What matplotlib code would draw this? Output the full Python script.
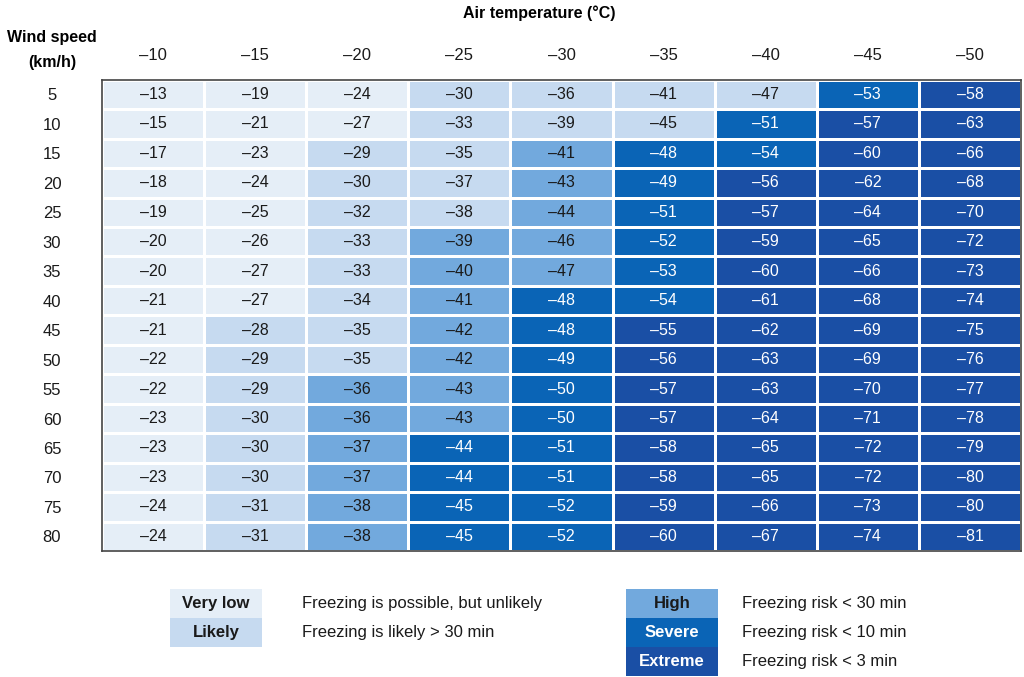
import numpy as np
import matplotlib
matplotlib.use("Agg")
import matplotlib.pyplot as plt
from matplotlib.colors import ListedColormap
from matplotlib.patches import Rectangle

plt.rcParams['font.family'] = ['Liberation Sans', 'DejaVu Sans']

# air temperature columns and wind speed rows
temps = [-10, -15, -20, -25, -30, -35, -40, -45, -50]
winds = [5, 10, 15, 20, 25, 30, 35, 40, 45, 50, 55, 60, 65, 70, 75, 80]

# wind chill values, one row per wind speed
chill = [
    [-13, -19, -24, -30, -36, -41, -47, -53, -58],
    [-15, -21, -27, -33, -39, -45, -51, -57, -63],
    [-17, -23, -29, -35, -41, -48, -54, -60, -66],
    [-18, -24, -30, -37, -43, -49, -56, -62, -68],
    [-19, -25, -32, -38, -44, -51, -57, -64, -70],
    [-20, -26, -33, -39, -46, -52, -59, -65, -72],
    [-20, -27, -33, -40, -47, -53, -60, -66, -73],
    [-21, -27, -34, -41, -48, -54, -61, -68, -74],
    [-21, -28, -35, -42, -48, -55, -62, -69, -75],
    [-22, -29, -35, -42, -49, -56, -63, -69, -76],
    [-22, -29, -36, -43, -50, -57, -63, -70, -77],
    [-23, -30, -36, -43, -50, -57, -64, -71, -78],
    [-23, -30, -37, -44, -51, -58, -65, -72, -79],
    [-23, -30, -37, -44, -51, -58, -65, -72, -80],
    [-24, -31, -38, -45, -52, -59, -66, -73, -80],
    [-24, -31, -38, -45, -52, -60, -67, -74, -81],
]

# risk class per cell: 0 very low, 1 likely, 2 high, 3 severe, 4 extreme
risk = [
    [0, 0, 0, 1, 1, 1, 1, 3, 4],
    [0, 0, 0, 1, 1, 1, 3, 4, 4],
    [0, 0, 1, 1, 2, 3, 3, 4, 4],
    [0, 0, 1, 1, 2, 3, 4, 4, 4],
    [0, 0, 1, 1, 2, 3, 4, 4, 4],
    [0, 0, 1, 2, 2, 3, 4, 4, 4],
    [0, 0, 1, 2, 2, 3, 4, 4, 4],
    [0, 0, 1, 2, 3, 3, 4, 4, 4],
    [0, 1, 1, 2, 3, 4, 4, 4, 4],
    [0, 1, 1, 2, 3, 4, 4, 4, 4],
    [0, 1, 2, 2, 3, 4, 4, 4, 4],
    [0, 1, 2, 2, 3, 4, 4, 4, 4],
    [0, 1, 2, 3, 3, 4, 4, 4, 4],
    [0, 1, 2, 3, 3, 4, 4, 4, 4],
    [0, 1, 2, 3, 3, 4, 4, 4, 4],
    [0, 1, 2, 3, 3, 4, 4, 4, 4],
]

risk_names = ["Very low", "Likely", "High", "Severe", "Extreme"]
risk_notes = ["Freezing is possible, but unlikely", "Freezing is likely > 30 min",
              "Freezing risk < 30 min", "Freezing risk < 10 min", "Freezing risk < 3 min"]
risk_colors = ["#e5eef7", "#c6daf0", "#72a9dd", "#0a64b6", "#1a4fa5"]
text_colors = ["#1a1a1a", "#1a1a1a", "#1a1a1a", "white", "white"]

def minus(v):
    return str(v).replace("-", "\u2013")

fig = plt.figure(figsize=(10.24, 6.77), dpi=100)
fig.patch.set_facecolor("white")

ax = fig.add_axes([0.0996, 0.186, 0.8975, 0.6962])
cmap = ListedColormap(risk_colors)
r = np.array(risk)
ax.pcolormesh(np.arange(len(temps) + 1), np.arange(len(winds) + 1), r,
              cmap=cmap, vmin=-0.5, vmax=4.5, edgecolors="white", linewidth=2)
ax.set_xlim(0, len(temps))
ax.set_ylim(len(winds), 0)

for i in range(len(winds)):
    for j in range(len(temps)):
        ax.text(j + 0.5, i + 0.5, minus(chill[i][j]), ha="center", va="center",
                fontsize=11.5, color=text_colors[risk[i][j]])

ax.set_xticks(np.arange(len(temps)) + 0.5)
ax.set_xticklabels([minus(t) for t in temps], fontsize=12, color="#1a1a1a")
ax.xaxis.tick_top()
ax.set_yticks(np.arange(len(winds)) + 0.5)
ax.set_yticklabels([str(w) for w in winds], fontsize=12, color="#1a1a1a", ha="center")
ax.tick_params(axis="x", length=0, pad=12)
ax.tick_params(axis="y", length=0, pad=36)
for s in ax.spines.values():
    s.set_color("#444444")
    s.set_linewidth(1.2)

fig.text(0.527, 0.981, "Air temperature (\u00b0C)", ha="center", va="center",
         fontsize=11.5, fontweight="bold")
fig.text(0.051, 0.944, "Wind speed", ha="center", va="center", fontsize=11.5, fontweight="bold")
fig.text(0.051, 0.908, "(km/h)", ha="center", va="center", fontsize=11.5, fontweight="bold")

# legend
W, H = 1024.0, 677.0
box_w, box_h = 92, 29
cols = [(170, 302, [0, 1]), (626, 742, [2, 3, 4])]
for bx, tx, idxs in cols:
    for k, idx in enumerate(idxs):
        top = 589 + k * box_h
        fig.patches.append(Rectangle((bx / W, 1 - (top + box_h) / H), box_w / W, box_h / H,
                                     transform=fig.transFigure, facecolor=risk_colors[idx],
                                     edgecolor="none"))
        fig.text((bx + box_w / 2) / W, 1 - (top + box_h / 2) / H, risk_names[idx],
                 ha="center", va="center", fontsize=12, fontweight="bold",
                 color=text_colors[idx])
        fig.text(tx / W, 1 - (top + box_h / 2) / H, risk_notes[idx],
                 ha="left", va="center", fontsize=12, color="#1a1a1a")

fig.savefig("out.png", dpi=100)
